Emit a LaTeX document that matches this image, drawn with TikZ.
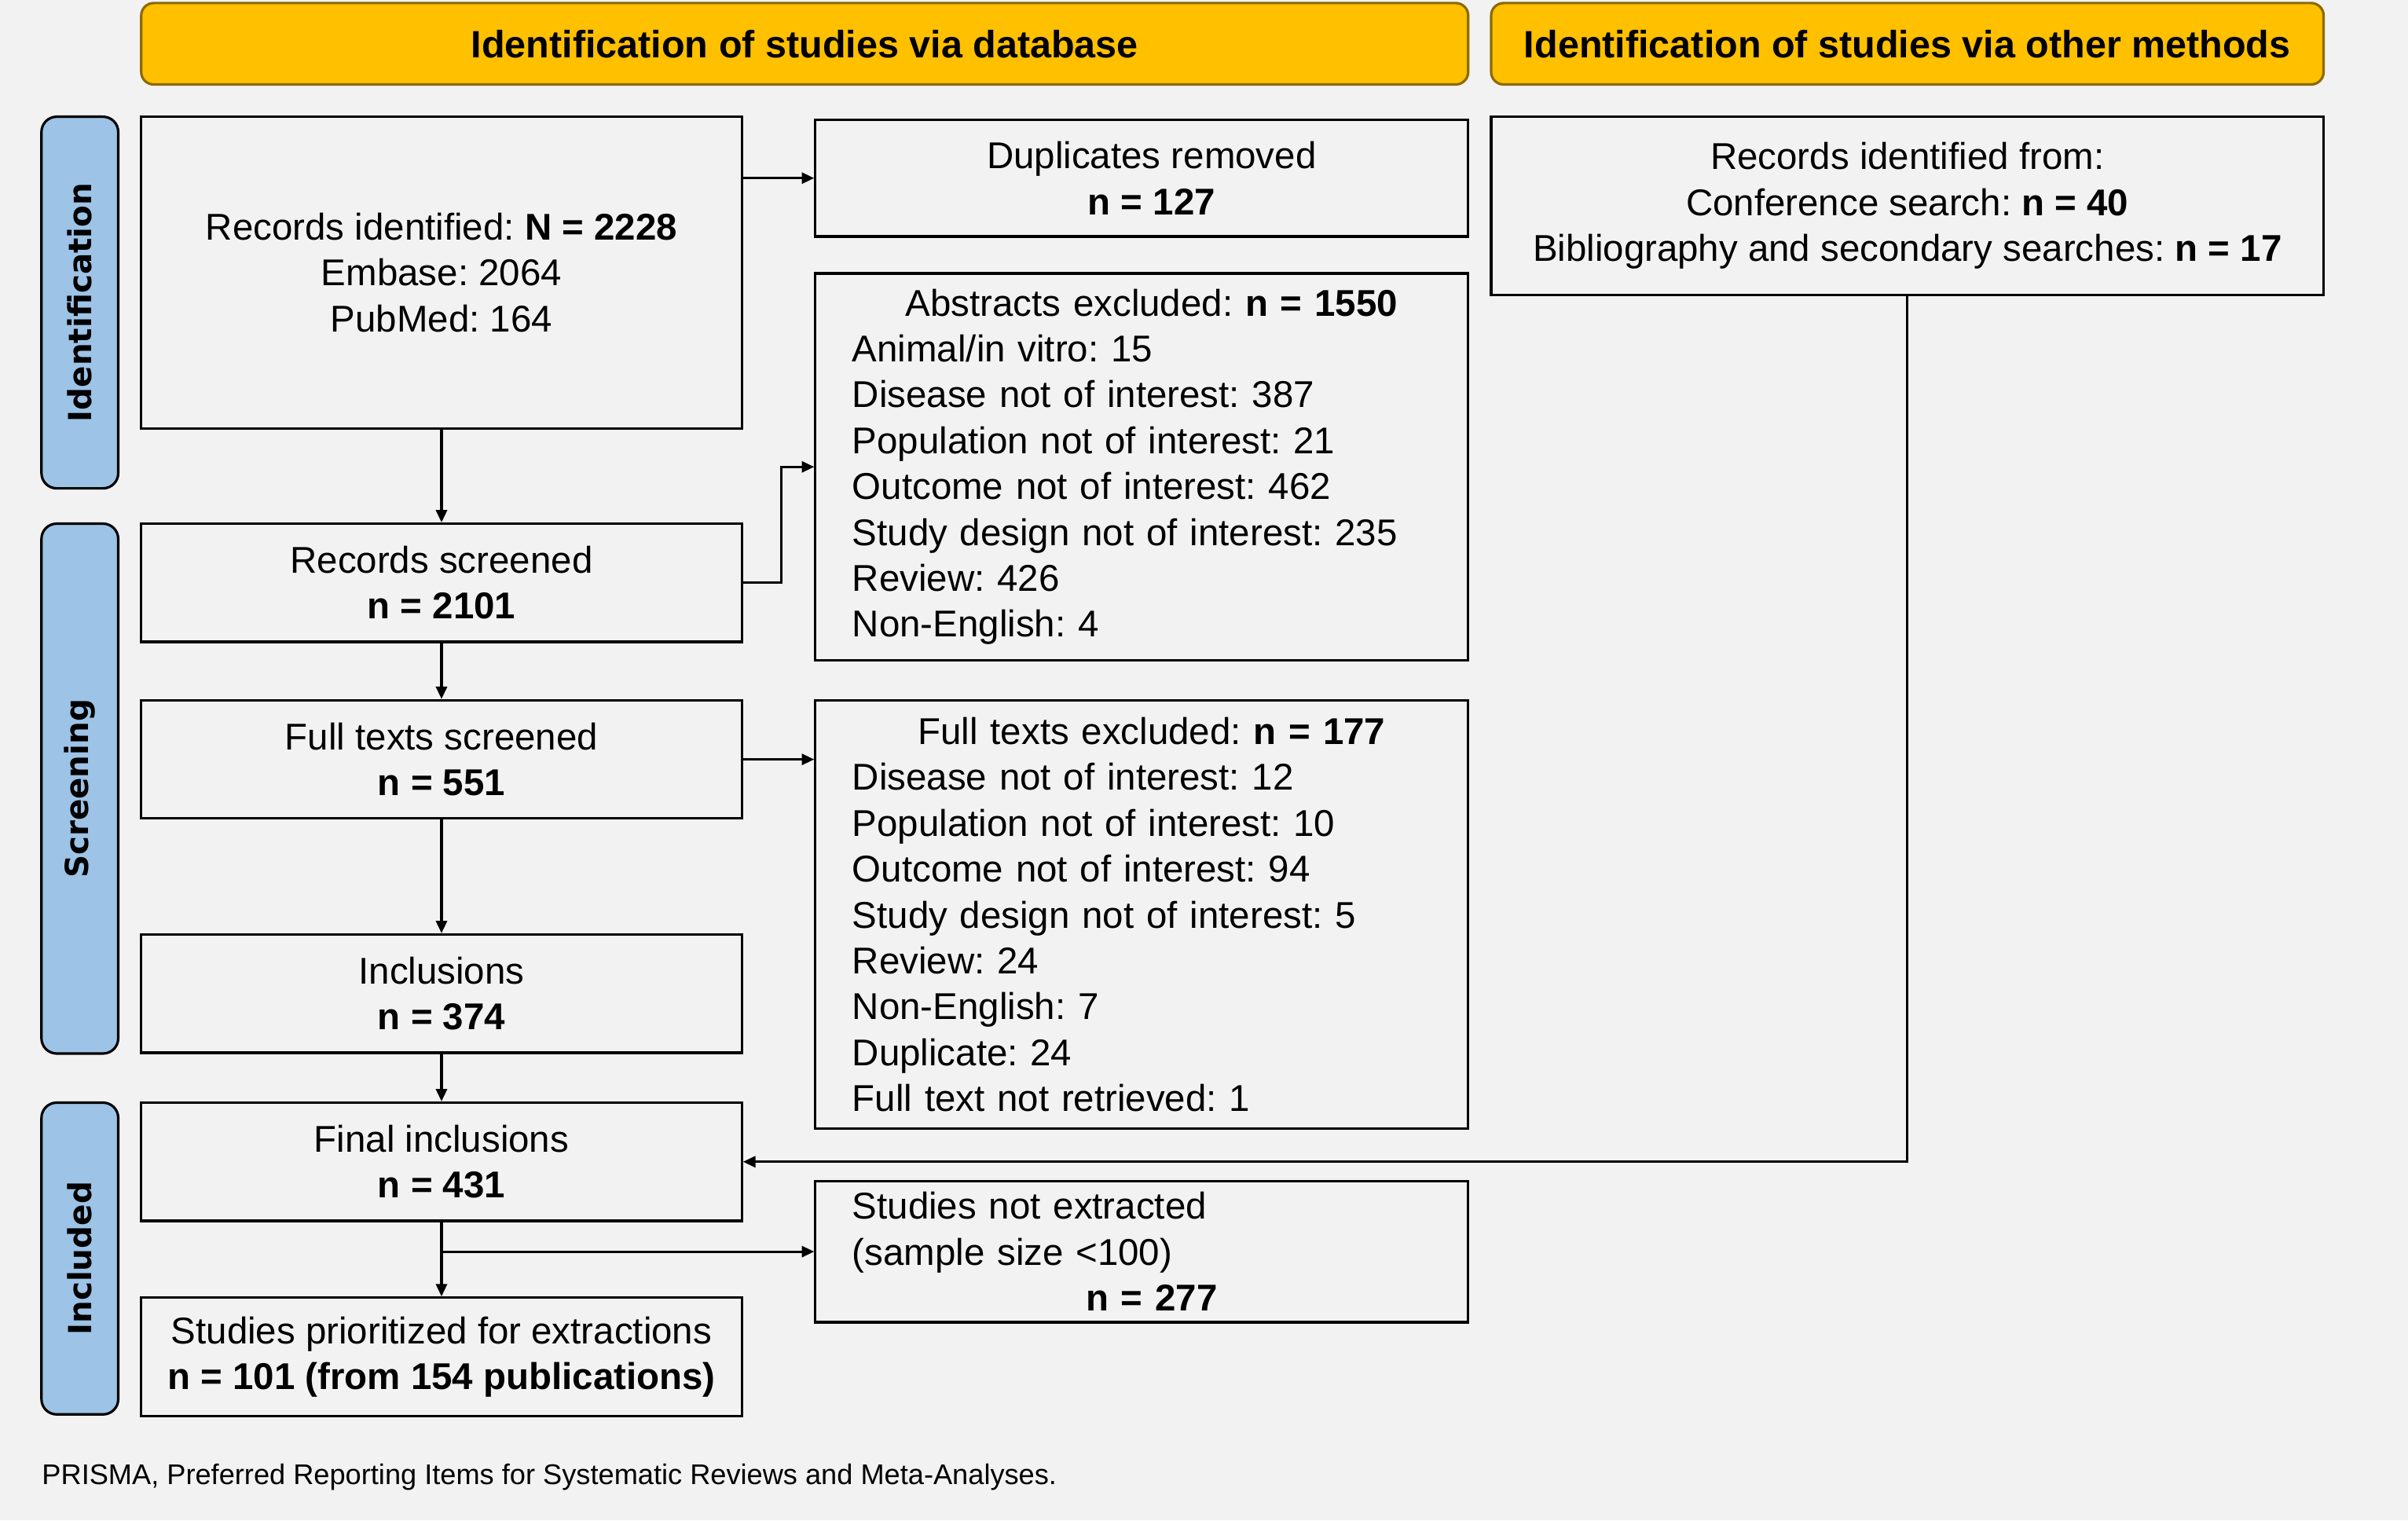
\documentclass[tikz,border=0pt]{standalone}
\usepackage{fontspec}
\setmainfont{Liberation Sans}
\newfontfamily\stagefont{DejaVu Sans}
\usetikzlibrary{arrows.meta, positioning, calc}
\definecolor{pagebg}{HTML}{F2F2F2}
\definecolor{headfill}{HTML}{FFC000}
\definecolor{headline}{HTML}{8C6A00}
\definecolor{stagefill}{HTML}{9DC3E6}
\newcommand{\midline}[1]{\hspace*{\fill}#1\hspace*{\fill}\mbox{}}

\begin{document}
\begin{tikzpicture}[x=0.019547cm, y=-0.019547cm,
    >={Triangle[length=4.5pt, width=4pt]},
    box/.style={rectangle, draw, line width=0.9pt, minimum width=7.643cm,
                minimum height=1.505cm, inner sep=0pt, align=center,
                font=\frenchspacing\fontsize{13.5}{16.6}\selectfont},
    listbox/.style={box, minimum width=8.308cm, text width=7.37cm, align=left},
    header/.style={rectangle, rounded corners=4.5pt, draw=headline, fill=headfill,
                line width=0.9pt, minimum height=1.036cm,
                font=\fontsize{13.8}{16}\selectfont\bfseries},
    stage/.style={rectangle, rounded corners=5.5pt, draw, fill=stagefill,
                line width=0.9pt, minimum height=0.977cm, rotate=90,
                font=\stagefont\fontsize{11.5}{13}\selectfont\bfseries},
    link/.style={->, line width=0.9pt}]

    % Background
    \fill[pagebg] (0,0) rectangle (1568,990);

    % Headers
    \node[header, minimum width=16.889cm] (hdb) at (524,28.5) {Identification of studies via database};
    \node[header, minimum width=10.595cm] (hoth) at (1242,28.5) {Identification of studies via other methods};

    % Stages
    \node[stage, minimum width=4.730cm] (sid) at (52,197) {Identification};
    \node[stage, minimum width=6.744cm] (sscr) at (52,513.5) {Screening};
    \node[stage, minimum width=3.968cm] (sinc) at (52,819.5) {Included};

    % Main flow
    \node[box, minimum height=3.968cm] (ident) at (287.5,177.5) {Records identified: \textbf{N = 2228}\\Embase: 2064\\PubMed: 164};
    \node[box] (screen) at (287.5,379.5) {Records screened\\\textbf{n = 2101}};
    \node[box] (fulltext) at (287.5,494.5) {Full texts screened\\\textbf{n = 551}};
    \node[box] (incl) at (287.5,647) {Inclusions\\\textbf{n = 374}};
    \node[box] (final) at (287.5,756.5) {Final inclusions\\\textbf{n = 431}};
    \node[box] (prior) at (287.5,883.5) {Studies prioritized for extractions\\\textbf{n = 101 (from 154 publications)}};

    % Exclusions
    \node[box, minimum width=8.308cm, minimum height=1.486cm] (dup) at (743.5,116) {\hspace{0.25cm}Duplicates removed\\\hspace{0.25cm}\textbf{n = 127}};
    \node[listbox, minimum height=4.926cm] (absex) at (743.5,304) {\midline{\hspace{0.25cm}Abstracts excluded: \textbf{n = 1550}}\\Animal/in vitro: 15\\Disease not of interest: 387\\Population not of interest: 21\\Outcome not of interest: 462\\Study design not of interest: 235\\Review: 426\\Non-English: 4};
    \node[listbox, minimum height=5.454cm] (ftex) at (743.5,595.5) {\midline{\hspace{0.25cm}Full texts excluded: \textbf{n = 177}}\\Disease not of interest: 12\\Population not of interest: 10\\Outcome not of interest: 94\\Study design not of interest: 5\\Review: 24\\Non-English: 7\\Duplicate: 24\\Full text not retrieved: 1};
    \node[listbox, minimum height=1.798cm] (notex) at (743.5,815) {Studies not extracted\\(sample size <100)\\\midline{\hspace{0.25cm}\textbf{n = 277}}};

    % Other methods
    \node[box, minimum width=10.595cm, minimum height=2.267cm] (other) at (1242,134) {Records identified from:\\Conference search: \textbf{n = 40}\\Bibliography and secondary searches: \textbf{n = 17}};

    % Footnote
    \node[anchor=west, inner sep=0pt, font=\fontsize{10.3}{12}\selectfont] (note) at (27,962) {PRISMA, Preferred Reporting Items for Systematic Reviews and Meta-Analyses.};

    % Arrows
    \draw[link] (ident.east |- dup.west) -- (dup.west);
    \draw[link] (ident) -- (screen);
    \draw[link] (screen.east) -- ++(25,0) |- (absex.west);
    \draw[link] (screen) -- (fulltext);
    \draw[link] (fulltext.east) -- (fulltext.east -| ftex.west);
    \draw[link] (fulltext) -- (incl);
    \draw[link] (incl) -- (final);
    \draw[link] (other.south) |- (final.east);
    \draw[link] (final) -- (prior);
    \draw[link] (final.south |- notex.west) -- (notex.west);
\end{tikzpicture}
\end{document}
